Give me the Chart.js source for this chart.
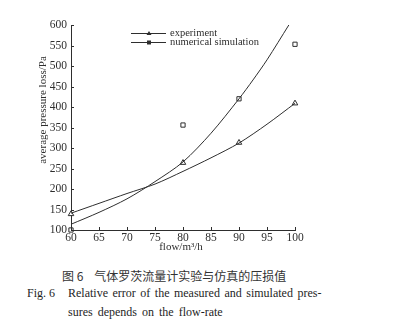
<!DOCTYPE html>
<html>
<head>
<meta charset="utf-8">
<script src="https://cdn.jsdelivr.net/npm/chart.js@4.4.0/dist/chart.umd.min.js"></script>
<style>
  html, body { margin: 0; padding: 0; background: #fff; }
  body { width: 401px; height: 329px; position: relative; overflow: hidden; }
  #wrap { position: absolute; left: 0; top: 0; width: 401px; height: 255px; }
  .cap { position: absolute; color: #1e1e1e; white-space: nowrap; }
  #capZh { left: 62px; top: 267px; font: 12px "Noto Sans CJK SC", sans-serif; color: #333; }
  #capZh span { margin-left: 11px; }
  #capFig { left: 27px; top: 286px; font: 12px "Liberation Serif", serif; }
  #capL1 { left: 68px; top: 286px; font: 12px "Liberation Serif", serif; word-spacing: 1.5px; }
  #capL2 { left: 68px; top: 305px; font: 12px "Liberation Serif", serif; word-spacing: 2px; }
</style>
</head>
<body>
<div id="wrap"><canvas id="chart"></canvas></div>
<div class="cap" id="capZh">图 6<span>气体罗茨流量计实验与仿真的压损值</span></div>
<div class="cap" id="capFig">Fig. 6</div>
<div class="cap" id="capL1">Relative error of the measured and simulated pres-</div>
<div class="cap" id="capL2">sures depends on the flow-rate</div>

<script>
"use strict";

// Data
const flow = [60, 80, 90, 100];
const experimentValues = [139, 264, 313, 409];
const simulationValues = [100, 356, 420, 553];

const experimentFitFlow = [60, 65, 70, 75, 80, 85, 90, 95, 100];
const experimentFit = [141, 165, 189, 212, 243, 276, 312, 358, 409];
const simulationFitFlow = [60, 65, 70, 75, 80, 85, 90, 92.5, 95, 98.9];
const simulationFit = [114, 143, 176, 218, 266, 336, 420, 466, 515, 600];

const xTicks = [60, 65, 70, 75, 80, 85, 90, 95, 100];
const yTicks = [100, 150, 200, 250, 300, 350, 400, 450, 500, 550, 600];

const seriesNames = ['experiment', 'numerical simulation'];

const ink = '#2e2e2e';
const serif = '"Liberation Serif", "DejaVu Serif", serif';

function toPoints(xs, ys) {
    return xs.map((x, i) => ({ x: x, y: ys[i] }));
}

// Inward ticks, axis titles and the legend
const extrasPlugin = {
    id: 'extras',
    afterDraw(chart) {
        const c = chart.ctx;
        const xs = chart.scales.x;
        const ys = chart.scales.y;
        const area = chart.chartArea;
        c.save();
        c.strokeStyle = ink;
        c.lineWidth = 1;
        c.beginPath();
        xTicks.forEach(v => {
            const px = Math.round(xs.getPixelForValue(v)) + 0.5;
            c.moveTo(px, area.bottom);
            c.lineTo(px, area.bottom - 3);
        });
        yTicks.forEach(v => {
            const py = Math.round(ys.getPixelForValue(v)) + 0.5;
            c.moveTo(area.left, py);
            c.lineTo(area.left + 3, py);
        });
        c.stroke();

        // axis titles
        c.fillStyle = ink;
        c.font = '11px ' + serif;
        c.textAlign = 'center';
        c.textBaseline = 'middle';
        c.fillText('flow/m³/h', 181, 247);
        c.translate(43, 110);
        c.rotate(-Math.PI / 2);
        c.fillText('average pressure loss/Pa', 0, 0);
        c.setTransform(1, 0, 0, 1, 0, 0);

        // legend
        const rows = [33, 42];
        rows.forEach((y, i) => {
            c.beginPath();
            c.moveTo(131, y + 0.5);
            c.lineTo(166, y + 0.5);
            c.stroke();
            c.beginPath();
            if (i === 0) {
                c.moveTo(149, y - 2);
                c.lineTo(151.5, y + 2);
                c.lineTo(146.5, y + 2);
                c.closePath();
                c.fill();
            } else {
                c.rect(147, y - 1.5, 4, 4);
                c.fill();
            }
            c.font = '10.5px ' + serif;
            c.textAlign = 'left';
            c.fillText(seriesNames[i], 170, y);
        });
        c.restore();
    }
};

const lineStyle = {
    showLine: true,
    pointRadius: 0,
    borderColor: ink,
    borderWidth: 1,
    tension: 0.3,
    fill: false
};

const markerStyle = {
    showLine: false,
    borderColor: ink,
    backgroundColor: '#fff',
    borderWidth: 1,
    clip: false
};

new Chart(document.getElementById('chart'), {
    type: 'scatter',
    data: {
        datasets: [
            Object.assign({ label: 'experiment fit', data: toPoints(experimentFitFlow, experimentFit) }, lineStyle),
            Object.assign({ label: 'simulation fit', data: toPoints(simulationFitFlow, simulationFit) }, lineStyle),
            Object.assign({ label: seriesNames[0], data: toPoints(flow, experimentValues), pointStyle: 'triangle', pointRadius: 3.2 }, markerStyle),
            Object.assign({ label: seriesNames[1], data: toPoints(flow, simulationValues), pointStyle: 'rect', pointRadius: 3 }, markerStyle)
        ]
    },
    options: {
        responsive: true,
        maintainAspectRatio: false,
        animation: false,
        layout: { padding: { top: 25, left: 30, right: 106, bottom: 0 } },
        plugins: {
            legend: { display: false },
            tooltip: { enabled: false }
        },
        scales: {
            x: {
                type: 'linear',
                min: 60,
                max: 100,
                afterFit: s => { s.height = 25; },
                afterBuildTicks: s => { s.ticks = xTicks.map(v => ({ value: v })); },
                grid: { display: false, drawTicks: false },
                border: { color: ink, width: 1 },
                ticks: { color: ink, padding: 1, font: { family: serif, size: 11.5 } }
            },
            y: {
                min: 100,
                max: 600,
                afterFit: s => { s.width = 41; },
                afterBuildTicks: s => { s.ticks = yTicks.map(v => ({ value: v })); },
                grid: { display: false, drawTicks: false },
                border: { color: ink, width: 1 },
                ticks: { color: ink, padding: 4, font: { family: serif, size: 11.5 } }
            }
        }
    },
    plugins: [extrasPlugin]
});
</script>
</body>
</html>
